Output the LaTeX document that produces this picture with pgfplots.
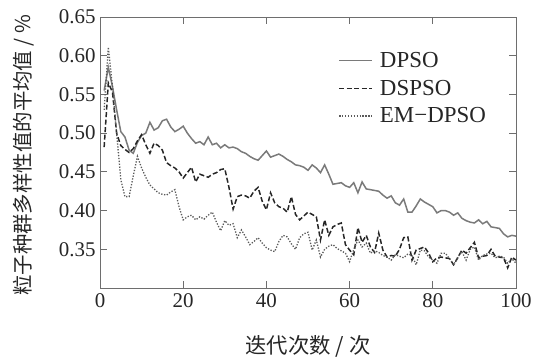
\documentclass[border=0pt]{standalone}
\usepackage{pgfplots}
\pgfplotsset{compat=1.18}
\usepackage{fontspec}
\setmainfont{Liberation Serif}
\newfontfamily\cjk{Noto Sans CJK SC}
\definecolor{axgray}{HTML}{6E6E6E}
\definecolor{solidc}{HTML}{7A7A7A}
\definecolor{dashc}{HTML}{262626}
\definecolor{dotc}{HTML}{5A5A5A}
\begin{document}
\begin{tikzpicture}
\path (0,0) rectangle (538bp,-358bp);
\begin{axis}[
  at={(100bp,-288bp)}, anchor=south west,
  width=416bp, height=271bp, scale only axis,
  xmin=0, xmax=100, ymin=0.30, ymax=0.65,
  xtick={0,20,...,100},
  ytick={0.35,0.40,0.45,0.50,0.55,0.60,0.65},
  tick align=inside,
  major tick length=7bp,
  axis line style={axgray, line width=0.9bp},
  tick style={axgray, line width=0.9bp},
  every tick label/.append style={font=\fontsize{21}{23}\selectfont, text=black!85},
  /pgf/number format/assume math mode=true,
  yticklabel style={/pgf/number format/fixed, /pgf/number format/fixed zerofill, /pgf/number format/precision=2, xshift=-1bp},
  xticklabel style={yshift=-2bp},
  xlabel={\cjk 迭代次数 / 次},
  ylabel={\cjk 粒子种群多样性值的平均值 / \%},
  xlabel style={at={(axis description cs:0.5,-0.214)}, anchor=center, font=\fontsize{21.5}{24}\selectfont, text=black!85},
  ylabel style={at={(axis description cs:-0.184,0.49)}, anchor=center, font=\fontsize{20.5}{23}\selectfont, text=black!85},
  legend style={draw=none, fill=none, at={(0.94,0.885)}, anchor=north east, font=\fontsize{23}{26}\selectfont, row sep=7bp, text=black!85},
  legend cell align=left,
  legend image code/.code={\draw[#1] (0bp,0bp) -- (33bp,0bp); \path (38bp,0bp);},
]
\addplot[solidc, line width=1.5bp] coordinates {
(1,0.555)(2,0.585)(3,0.560)(4,0.530)(5,0.502)(6,0.495)(7,0.478)(8,0.474)(9,0.488)(10,0.497)
(11,0.500)(12,0.514)(13,0.504)(14,0.507)(15,0.516)(16,0.518)(17,0.508)(18,0.502)(19,0.505)(20,0.509)
(21,0.500)(22,0.493)(23,0.487)(24,0.489)(25,0.485)(26,0.495)(27,0.485)(28,0.487)(29,0.481)(30,0.485)
(31,0.481)(32,0.482)(33,0.480)(34,0.476)(35,0.474)(36,0.470)(37,0.467)(38,0.465)(39,0.471)(40,0.477)
(41,0.469)(42,0.471)(43,0.473)(44,0.470)(45,0.466)(46,0.463)(47,0.459)(48,0.458)(49,0.456)(50,0.452)
(51,0.459)(52,0.455)(53,0.449)(54,0.459)(55,0.447)(56,0.434)(57,0.435)(58,0.436)(59,0.432)(60,0.430)
(61,0.436)(62,0.423)(63,0.437)(64,0.428)(65,0.427)(66,0.426)(67,0.425)(68,0.420)(69,0.416)(70,0.419)
(71,0.410)(72,0.407)(73,0.415)(74,0.398)(75,0.398)(76,0.406)(77,0.415)(78,0.411)(79,0.408)(80,0.405)
(81,0.397)(82,0.400)(83,0.400)(84,0.398)(85,0.394)(86,0.397)(87,0.390)(88,0.387)(89,0.385)(90,0.384)
(91,0.388)(92,0.383)(93,0.386)(94,0.379)(95,0.378)(96,0.377)(97,0.370)(98,0.366)(99,0.368)(100,0.367)
};
\addlegendentry{DPSO}
\addplot[dashc, line width=1.5bp, dash pattern=on 5bp off 2.5bp] coordinates {
(1,0.482)(2,0.565)(3,0.553)(4,0.500)(5,0.484)(6,0.479)(7,0.475)(8,0.480)(9,0.490)(10,0.498)
(11,0.485)(12,0.474)(13,0.487)(14,0.484)(15,0.478)(16,0.462)(17,0.458)(18,0.455)(19,0.450)(20,0.442)
(21,0.449)(22,0.456)(23,0.437)(24,0.447)(25,0.445)(26,0.443)(27,0.447)(28,0.449)(29,0.453)(30,0.454)
(31,0.430)(32,0.402)(33,0.418)(34,0.420)(35,0.419)(36,0.416)(37,0.425)(38,0.430)(39,0.412)(40,0.401)
(41,0.423)(42,0.410)(43,0.405)(44,0.403)(45,0.398)(46,0.418)(47,0.395)(48,0.388)(49,0.393)(50,0.398)
(51,0.395)(52,0.392)(53,0.362)(54,0.388)(55,0.368)(56,0.379)(57,0.382)(58,0.384)(59,0.356)(60,0.349)
(61,0.343)(62,0.378)(63,0.359)(64,0.368)(65,0.353)(66,0.346)(67,0.371)(68,0.349)(69,0.340)(70,0.342)
(71,0.341)(72,0.350)(73,0.365)(74,0.366)(75,0.336)(76,0.349)(77,0.351)(78,0.353)(79,0.345)(80,0.334)
(81,0.339)(82,0.340)(83,0.339)(84,0.338)(85,0.330)(86,0.339)(87,0.349)(88,0.345)(89,0.352)(90,0.359)
(91,0.339)(92,0.341)(93,0.342)(94,0.350)(95,0.341)(96,0.340)(97,0.339)(98,0.326)(99,0.340)(100,0.336)
};
\addlegendentry{DSPSO}
\addplot[dotc, line width=1.3bp, dash pattern=on 1.3bp off 1.6bp] coordinates {
(1,0.530)(2,0.611)(3,0.560)(4,0.500)(5,0.440)(6,0.418)(7,0.418)(8,0.445)(9,0.470)(10,0.455)
(11,0.443)(12,0.433)(13,0.428)(14,0.423)(15,0.421)(16,0.420)(17,0.424)(18,0.427)(19,0.405)(20,0.388)
(21,0.392)(22,0.394)(23,0.388)(24,0.392)(25,0.389)(26,0.394)(27,0.398)(28,0.385)(29,0.374)(30,0.387)
(31,0.381)(32,0.383)(33,0.365)(34,0.375)(35,0.366)(36,0.356)(37,0.360)(38,0.365)(39,0.358)(40,0.352)
(41,0.349)(42,0.347)(43,0.360)(44,0.368)(45,0.366)(46,0.357)(47,0.350)(48,0.365)(49,0.370)(50,0.372)
(51,0.349)(52,0.362)(53,0.340)(54,0.350)(55,0.354)(56,0.356)(57,0.351)(58,0.348)(59,0.345)(60,0.334)
(61,0.350)(62,0.362)(63,0.353)(64,0.358)(65,0.345)(66,0.348)(67,0.346)(68,0.342)(69,0.340)(70,0.336)
(71,0.343)(72,0.341)(73,0.339)(74,0.344)(75,0.342)(76,0.330)(77,0.349)(78,0.348)(79,0.340)(80,0.336)
(81,0.332)(82,0.345)(83,0.345)(84,0.338)(85,0.330)(86,0.340)(87,0.347)(88,0.336)(89,0.350)(90,0.353)
(91,0.336)(92,0.342)(93,0.344)(94,0.345)(95,0.339)(96,0.341)(97,0.340)(98,0.332)(99,0.338)(100,0.332)
};
\addlegendentry{EM−DPSO}
\end{axis}
\end{tikzpicture}
\end{document}
